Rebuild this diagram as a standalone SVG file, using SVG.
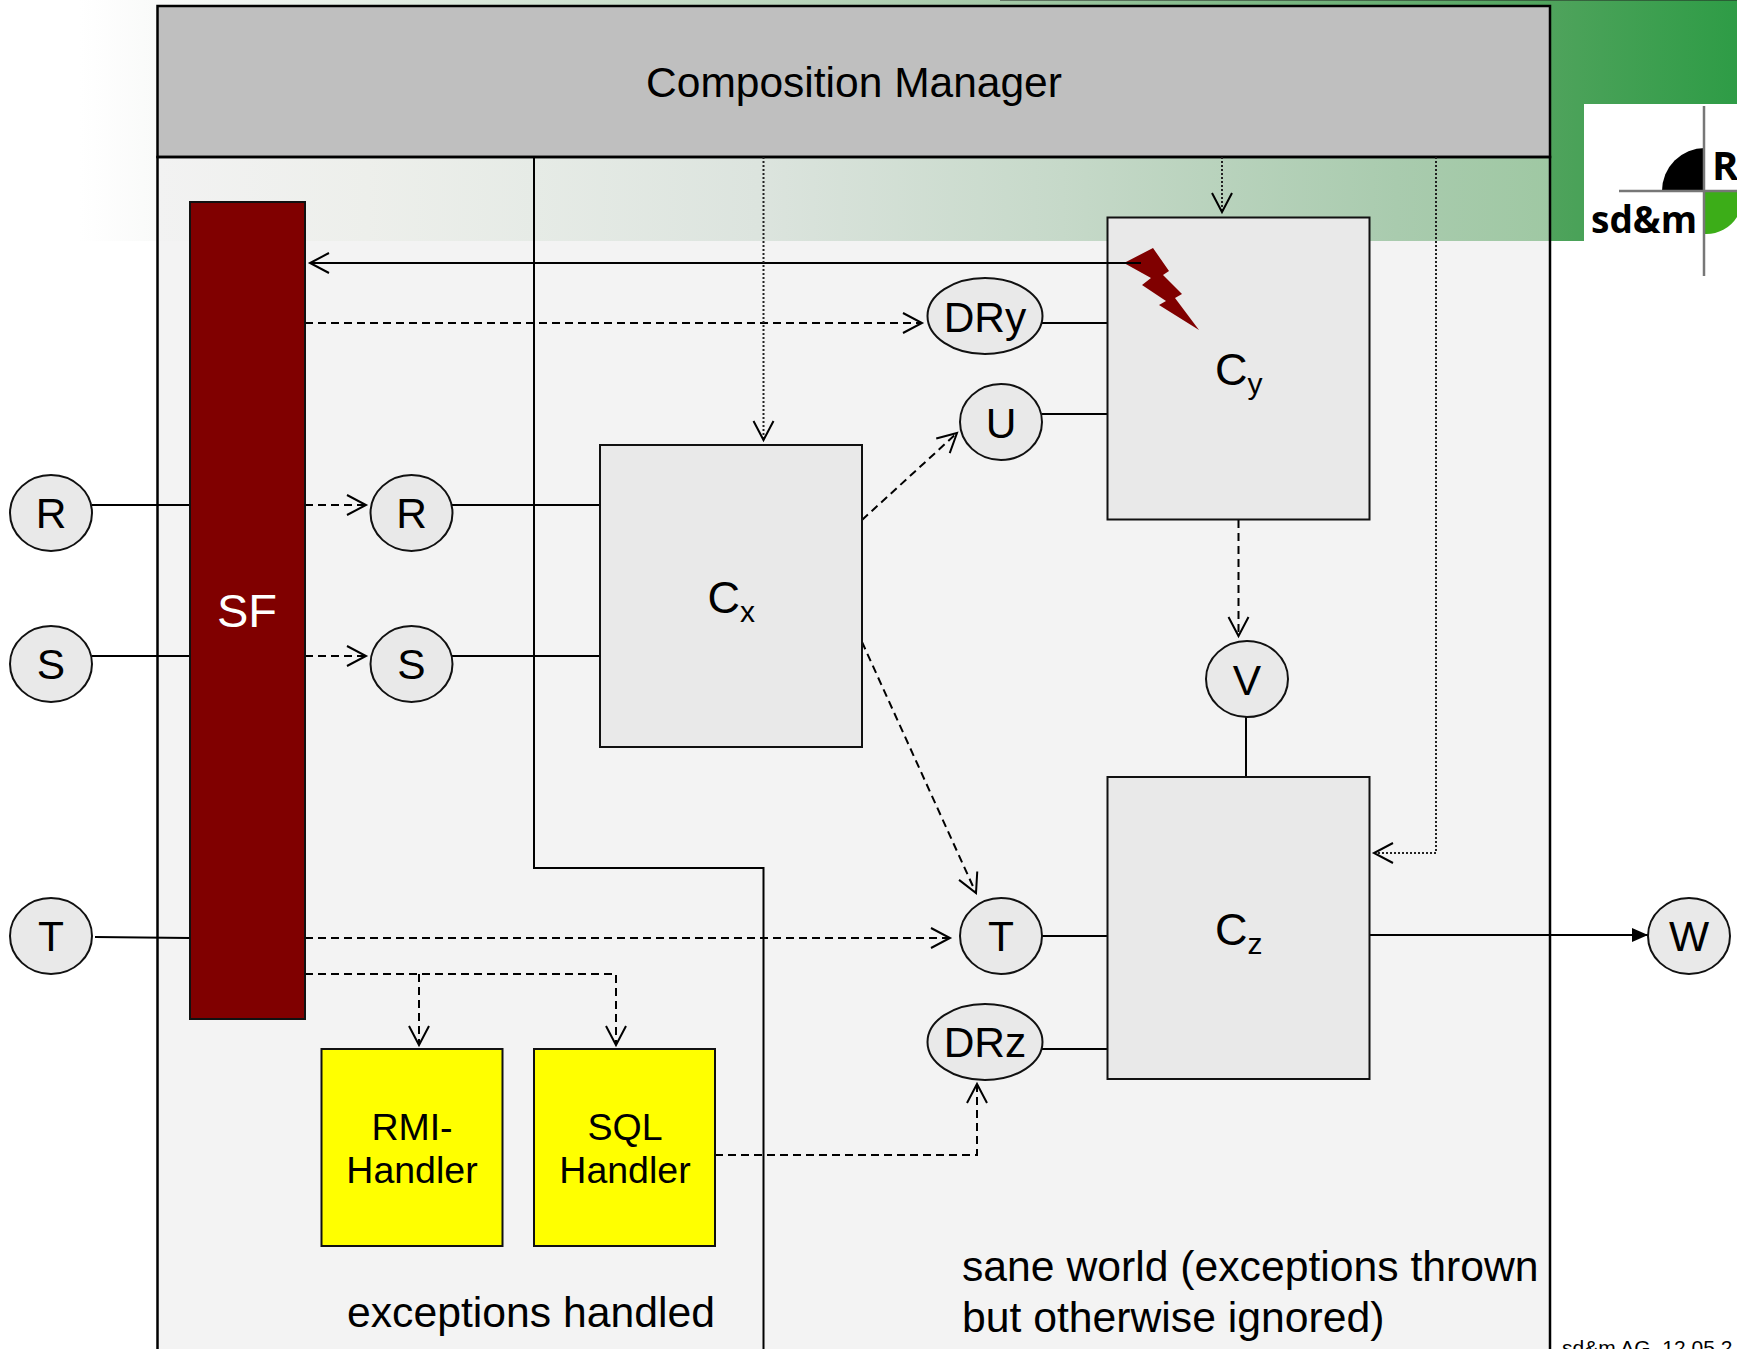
<svg xmlns="http://www.w3.org/2000/svg" width="1737" height="1349" viewBox="0 0 1737 1349">
<style>
text{font-family:"Liberation Sans",Arial,sans-serif;fill:#000}
.lbl{font-size:42.500px;text-anchor:middle}
.sub{font-size:30px}
.big{font-size:45px}
.hand{font-size:37.500px;text-anchor:middle}
.box{fill:#e9e9e9;stroke:#111;stroke-width:2}
.yel{fill:#ff0;stroke:#111;stroke-width:2}
.ell{fill:#e9e9e9;stroke:#111;stroke-width:2}
.ln{fill:none;stroke:#000;stroke-width:2}
.da{stroke-dasharray:8 5}
.dot{stroke-dasharray:2 2;stroke:#222}
.frame{fill:none;stroke:#000;stroke-width:2.500}
</style>
<defs>
<linearGradient id="g" gradientUnits="userSpaceOnUse" x1="80" y1="0" x2="1737" y2="0"><stop offset="0" stop-color="#fff"/><stop offset=".046" stop-color="#f9faf9"/><stop offset=".555" stop-color="#a5c9a8"/><stop offset=".887" stop-color="#4fa35c"/><stop offset="1" stop-color="#2e9c46"/></linearGradient>
<linearGradient id="p" gradientUnits="userSpaceOnUse" x1="158" y1="0" x2="1550" y2="0"><stop offset="0" stop-color="#f2f2f2"/><stop offset=".15" stop-color="#edefeb"/><stop offset=".27" stop-color="#e6ebe6"/><stop offset=".43" stop-color="#dce4de"/><stop offset=".65" stop-color="#c6d9c9"/><stop offset=".89" stop-color="#a9cbae"/><stop offset="1" stop-color="#9fc8a3"/></linearGradient>
<marker id="o" markerUnits="userSpaceOnUse" markerWidth="26" markerHeight="26" refX="21" refY="12" orient="auto"><path d="M2 2L21 12L2 22" fill="none" stroke="#000" stroke-width="2"/></marker>
<marker id="f" markerUnits="userSpaceOnUse" markerWidth="20" markerHeight="16" refX="16" refY="8" orient="auto"><path d="M0 1L16 8L0 15Z" fill="#000"/></marker>
</defs>
<rect width="1737" height="1349" fill="#fff"/>
<g id="background">
<rect x="0" y="0" width="1737" height="241" fill="url(#g)"/>
<rect x="1000" y="0" width="737" height="1" fill="#222" opacity=".5"/>
</g>
<g id="panel">
<rect x="157.500" y="157" width="1392.500" height="84" fill="url(#p)"/>
<rect x="157.500" y="241" width="1392.500" height="1108" fill="#f3f3f3"/>
</g>
<g id="logo">
<rect x="1584" y="104" width="153" height="172" fill="#fff"/>
<path d="M1662 191a43 43 0 0 1 43-43V191Z" fill="#000"/>
<path d="M1705 191h32v26a36 36 0 0 1-32 17Z" fill="#3cad18"/>
<path d="M1619 191h118M1704 106V276" stroke="#777" stroke-width="2.500" fill="none"/>
<text x="1591" y="233" font-size="38" font-weight="700" style="font-family:'Open Sans',sans-serif" textLength="106" lengthAdjust="spacingAndGlyphs">sd&amp;m</text>
<text x="1712" y="180" font-size="40" font-weight="700" style="font-family:'Open Sans',sans-serif">R</text>
</g>
<g id="composition-manager">
<rect x="157.500" y="6" width="1392.500" height="151" fill="#bfbfbf" stroke="#000" stroke-width="2.500"/>
<text x="854" y="97" class="lbl">Composition Manager</text>
</g>
<rect class="frame" x="157.500" y="157" width="1392.500" height="1194"/>
<g id="connectors">
<path class="ln" d="M534 157V868H763.500V1351"/>
<path class="ln" d="M1107 263H310" marker-end="url(#o)"/>
<path class="ln da" d="M305 323H922" marker-end="url(#o)"/>
<path class="ln" d="M1042 323H1107M1042 414H1107"/>
<path class="ln" d="M92 505H190M452 505H600M92 656H190M452 656H600M95 937L190 938M1042 936H1107M1042 1049H1107M1246 716V777"/>
<path class="ln da" d="M305 505H366" marker-end="url(#o)"/>
<path class="ln da" d="M305 656H366" marker-end="url(#o)"/>
<path class="ln da" d="M305 938H950" marker-end="url(#o)"/>
<path class="ln da" d="M862 520L957 433" marker-end="url(#o)"/>
<path class="ln da" d="M862 642L976 893" marker-end="url(#o)"/>
<path class="ln da" d="M1238.500 520V636" marker-end="url(#o)"/>
<path class="ln" d="M1370 935H1648" marker-end="url(#f)"/>
<path class="ln dot" d="M763.500 157V440" marker-end="url(#o)"/>
<path class="ln dot" d="M1222 157V212" marker-end="url(#o)"/>
<path class="ln dot" d="M1436 157V853H1374" marker-end="url(#o)"/>
<path class="ln da" d="M305 974H616V1045" marker-end="url(#o)"/>
<path class="ln da" d="M419 974V1045" marker-end="url(#o)"/>
<path class="ln da" d="M715 1155H977V1084" marker-end="url(#o)"/>
</g>
<g id="sf"><rect x="190" y="202" width="115" height="817" fill="#800000" stroke="#111" stroke-width="2"/><text x="247" y="627" class="lbl" style="fill:#fff;font-size:47px">SF</text></g>
<g id="cx"><rect class="box" x="600" y="445" width="262" height="302"/><text x="707.500" y="613" class="big">C<tspan class="sub" dy="9">x</tspan></text></g>
<g id="cy"><rect class="box" x="1107.500" y="217.500" width="262" height="302"/><text x="1215" y="385" class="big">C<tspan class="sub" dy="9">y</tspan></text></g>
<g id="cz"><rect class="box" x="1107.500" y="777" width="262" height="302"/><text x="1215" y="945" class="big">C<tspan class="sub" dy="9">z</tspan></text></g>
<g id="flash"><path d="M1107 263H1126" class="ln"/><path d="M1124 263L1153 248L1169 271L1163 275L1182 294L1175 298L1199 330L1159 305L1166 301L1142 285L1151 278Z" fill="#800000"/><path d="M1124 263H1141" class="ln"/></g>
<g id="r-out"><ellipse class="ell" cx="51" cy="513" rx="41" ry="38"/><text x="51" y="528" class="lbl">R</text></g>
<g id="s-out"><ellipse class="ell" cx="51" cy="664" rx="41" ry="38"/><text x="51" y="679" class="lbl">S</text></g>
<g id="t-out"><ellipse class="ell" cx="51" cy="936" rx="41" ry="38"/><text x="51" y="951" class="lbl">T</text></g>
<g id="r-in"><ellipse class="ell" cx="411.500" cy="513" rx="41" ry="38"/><text x="411.500" y="528" class="lbl">R</text></g>
<g id="s-in"><ellipse class="ell" cx="411.500" cy="664" rx="41" ry="38"/><text x="411.500" y="679" class="lbl">S</text></g>
<g id="u"><ellipse class="ell" cx="1001" cy="422" rx="41" ry="38"/><text x="1001" y="438" class="lbl">U</text></g>
<g id="t-in"><ellipse class="ell" cx="1001" cy="936" rx="41" ry="38"/><text x="1001" y="951" class="lbl">T</text></g>
<g id="v"><ellipse class="ell" cx="1247" cy="679" rx="41" ry="38"/><text x="1247" y="695" class="lbl">V</text></g>
<g id="w"><ellipse class="ell" cx="1689" cy="936" rx="41" ry="38"/><text x="1689" y="951" class="lbl">W</text></g>
<g id="dry"><ellipse class="ell" cx="985" cy="316" rx="57.500" ry="38"/><text x="985" y="332" class="lbl">DRy</text></g>
<g id="drz"><ellipse class="ell" cx="985" cy="1042" rx="57.500" ry="38"/><text x="985" y="1057" class="lbl">DRz</text></g>
<g id="rmi"><rect class="yel" x="321.500" y="1049" width="181" height="197"/><text class="hand" x="412" y="1140">RMI-</text><text class="hand" x="412" y="1183">Handler</text></g>
<g id="sql"><rect class="yel" x="534" y="1049" width="181" height="197"/><text class="hand" x="625" y="1140">SQL</text><text class="hand" x="625" y="1183">Handler</text></g>
<text x="347" y="1327" font-size="42.700">exceptions handled</text>
<text x="962" y="1281" font-size="42.700">sane world (exceptions thrown</text>
<text x="962" y="1332" font-size="42.700">but otherwise ignored)</text>
<text x="1562" y="1355" font-size="21">sd&amp;m AG, 12.05.2</text>
</svg>
